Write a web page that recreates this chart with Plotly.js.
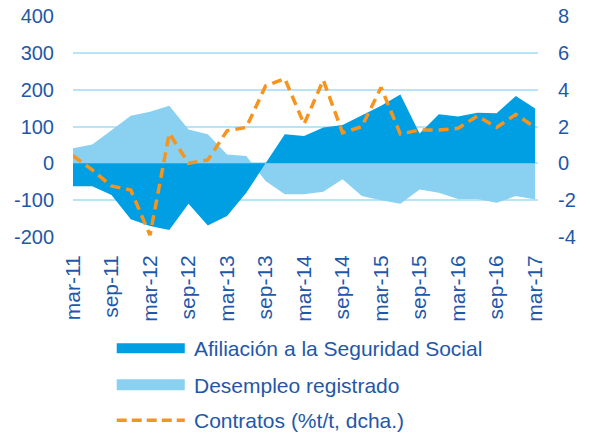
<!DOCTYPE html>
<html>
<head>
<meta charset="utf-8">
<script src="https://cdn.plot.ly/plotly-3.0.1.min.js"></script>
<style>html,body{margin:0;padding:0;background:#fff;}#chart{width:590px;height:439px;}</style>
</head>
<body>
<div id="chart"></div>
<script>
// Quarters
var quarters = ['mar-11','jun-11','sep-11','dic-11','mar-12','jun-12','sep-12','dic-12','mar-13','jun-13','sep-13','dic-13','mar-14','jun-14','sep-14','dic-14','mar-15','jun-15','sep-15','dic-15','mar-16','jun-16','sep-16','dic-16','mar-17'];
var tickLabels = ['mar-11','sep-11','mar-12','sep-12','mar-13','sep-13','mar-14','sep-14','mar-15','sep-15','mar-16','sep-16','mar-17'];
// Left axis ticks
var leftTicks = [-200,-100,0,100,200,300,400];
var leftTickText = ['-200','-100','0','100','200','300','400'];
// Right axis ticks
var rightTicks = [-4,-2,0,2,4,6,8];
var rightTickText = ['-4','-2','0','2','4','6','8'];
// Afiliación a la Seguridad Social (left axis)
var afiliacion = [-62,-62,-86,-152,-170,-181,-110,-169,-143,-80,0,79,74,97,104,131,156,187,81,133,127,137,136,183,149];
// Desempleo registrado (left axis)
var desempleo = [41,51,90,129,140,156,92,79,24,20,-48,-84,-84,-77,-43,-89,-100,-110,-71,-80,-97,-97,-107,-89,-98];
// Contratos (%t/t, right axis)
var contratos = [0.41,-0.36,-1.23,-1.45,-3.9,1.63,0.0,0.18,1.77,1.95,4.2,4.6,2.13,4.52,1.66,1.99,4.12,1.59,1.81,1.81,1.9,2.57,1.95,2.66,1.95];
var seriesNames = ['Afiliación a la Seguridad Social','Desempleo registrado','Contratos (%t/t, dcha.)'];

var cDark = '#009FE3', cLight = '#8AD0F1', cOrange = '#F7941D', cText = '#1F58A8', cAxis = '#1E4F9C', cGrid = '#B9E3F7';
var FONT = 'Liberation Sans, Arial, sans-serif';

var idx = quarters.map(function(_, i){ return i; });
var tickIdx = tickLabels.map(function(l){ return quarters.indexOf(l); });

var traces = [
  {x: idx, y: desempleo, type: 'scatter', mode: 'lines', fill: 'tozeroy', fillcolor: cLight, line: {width: 0, color: cLight}, name: seriesNames[1], showlegend: false, hoverinfo: 'skip'},
  {x: idx, y: afiliacion, type: 'scatter', mode: 'lines', fill: 'tozeroy', fillcolor: cDark, line: {width: 0, color: cDark}, name: seriesNames[0], showlegend: false, hoverinfo: 'skip'},
  {x: idx, y: contratos, type: 'scatter', mode: 'lines', yaxis: 'y2', line: {width: 3.5, color: cOrange, dash: '10px,6px'}, name: seriesNames[2], showlegend: false, hoverinfo: 'skip'}
];

var L = 73.3, R = 538, T = 15.7, B = 236.7;
var W = 590, H = 439;
function px(xp){ return (xp - L) / (R - L); }
function py(yp){ return (B - yp) / (B - T); }

var shapes = [
  {type: 'rect', xref: 'paper', yref: 'paper', x0: px(117), x1: px(185), y0: py(343), y1: py(353), fillcolor: cDark, line: {width: 0}},
  {type: 'rect', xref: 'paper', yref: 'paper', x0: px(117), x1: px(185), y0: py(379), y1: py(390), fillcolor: cLight, line: {width: 0}},
  {type: 'line', xref: 'paper', yref: 'paper', x0: px(117), x1: px(185), y0: py(420), y1: py(420), line: {color: cOrange, width: 3.5, dash: '10px,5px'}}
];
var legY = [348.5, 385, 420.5];
var annotations = seriesNames.map(function(n, i){
  return {xref: 'paper', yref: 'paper', x: px(192), y: py(legY[i]), xanchor: 'left', yanchor: 'middle', text: n, showarrow: false, font: {family: FONT, size: 21, color: cText}};
});

var layout = {
  width: W, height: H,
  margin: {l: L, r: W - R, t: T, b: H - B, pad: 0},
  paper_bgcolor: '#fff', plot_bgcolor: '#fff',
  font: {family: FONT, size: 20, color: cText},
  showlegend: false,
  xaxis: {range: [0, 24.15], tickmode: 'array', tickvals: tickIdx, ticktext: tickLabels, tickangle: -90, showgrid: false, zeroline: false, showline: false, ticks: '', ticklabelstandoff: 13, tickfont: {size: 21, color: cText}, fixedrange: true},
  xaxis2: {overlaying: 'x', anchor: 'free', position: 1/3, range: [0, 24.15], tickmode: 'array', tickvals: tickIdx, showticklabels: false, showgrid: false, zeroline: false, showline: true, linecolor: cAxis, linewidth: 2, ticks: 'outside', ticklen: 5, tickwidth: 2, tickcolor: cAxis},
  yaxis: {range: [-200, 400], tickmode: 'array', tickvals: leftTicks, ticktext: leftTickText, showgrid: true, gridcolor: cGrid, gridwidth: 2, zeroline: false, showline: false, ticks: '', ticklabelstandoff: 18, tickfont: {size: 20, color: cText}},
  yaxis2: {range: [-4, 8], tickmode: 'array', tickvals: rightTicks, ticktext: rightTickText, overlaying: 'y', side: 'right', showgrid: false, zeroline: false, showline: false, ticks: '', ticklabelstandoff: 19, tickfont: {size: 20, color: cText}},
  shapes: shapes,
  annotations: annotations
};

Plotly.newPlot('chart', traces, layout, {staticPlot: true, displayModeBar: false});
</script>
</body>
</html>
